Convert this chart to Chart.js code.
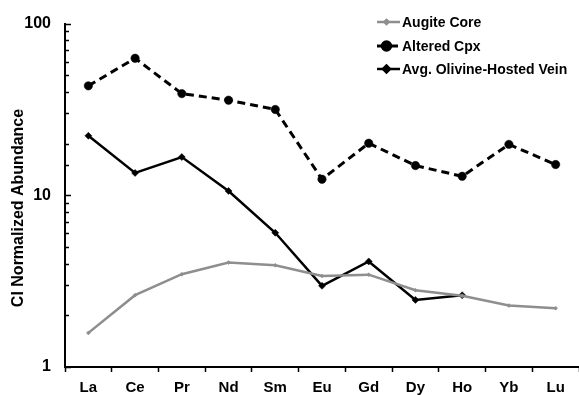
<!DOCTYPE html>
<html>
<head>
<meta charset="utf-8">
<script src="https://cdn.jsdelivr.net/npm/chart.js@4/dist/chart.umd.min.js"></script>
<style>
  html, body { margin: 0; padding: 0; background: #fff; overflow: hidden; }
  canvas { display: block; }
</style>
</head>
<body>
<canvas id="ree" width="579" height="395"></canvas>
<script>
// REE pattern, CI chondrite normalized
const elements = ['La', 'Ce', 'Pr', 'Nd', 'Sm', 'Eu', 'Gd', 'Dy', 'Ho', 'Yb', 'Lu'];
const augiteCore = [1.58, 2.62, 3.47, 4.06, 3.91, 3.39, 3.45, 2.80, 2.60, 2.28, 2.20];
const alteredCpx = [43.4, 62.8, 39.1, 35.8, 31.6, 12.4, 20.1, 14.9, 12.9, 19.8, 15.1];
const olivineVein = [22.2, 13.5, 16.7, 10.6, 6.05, 2.97, 4.12, 2.46, 2.62, null, null];
const yTickLabels = [1, 10, 100];
const yTitle = 'CI Normalized Abundance';

const FONT = '"Liberation Sans", Arial, sans-serif';
const GREY = '#8e8e8e';

// y-axis tick marks point into the plot area
const innerTicks = {
  id: 'innerTicks',
  afterDraw(chart) {
    const y = chart.scales.y;
    const ctx = chart.ctx;
    const x0 = chart.chartArea.left;
    ctx.save();
    ctx.strokeStyle = '#000';
    ctx.lineWidth = 1.5;
    y.ticks.forEach(t => {
      const py = Math.round(y.getPixelForValue(t.value)) + 0.5;
      const major = yTickLabels.includes(t.value);
      ctx.beginPath();
      ctx.moveTo(x0, py);
      ctx.lineTo(x0 + (major ? 6 : 4), py);
      ctx.stroke();
    });
    ctx.restore();
  }
};

// rotated y-axis title, sitting a little below the plot's mid-height
const yAxisTitle = {
  id: 'yAxisTitle',
  afterDraw(chart) {
    const ctx = chart.ctx;
    ctx.save();
    ctx.translate(19, 208);
    ctx.rotate(-Math.PI / 2);
    ctx.fillStyle = '#000';
    ctx.font = 'bold 16px ' + FONT;
    ctx.textAlign = 'center';
    ctx.textBaseline = 'middle';
    ctx.fillText(yTitle, 0, 0);
    ctx.restore();
  }
};

// legend with line + marker samples
const lineLegend = {
  id: 'lineLegend',
  afterDraw(chart) {
    const ctx = chart.ctx;
    const x1 = 377, x2 = 400, tx = 402;
    const rows = [22, 46, 69];
    ctx.save();
    chart.data.datasets.forEach((ds, i) => {
      const y = rows[i];
      ctx.strokeStyle = ds.borderColor;
      ctx.lineWidth = ds.borderWidth;
      ctx.setLineDash(ds.borderDash || []);
      ctx.beginPath();
      ctx.moveTo(x1, y);
      ctx.lineTo(x2, y);
      ctx.stroke();
      ctx.setLineDash([]);
      ctx.fillStyle = ds.pointBackgroundColor;
      ctx.strokeStyle = ds.pointBorderColor;
      Chart.helpers.drawPoint(ctx, {
        pointStyle: ds.pointStyle,
        radius: ds.pointRadius,
        borderWidth: ds.pointBorderWidth
      }, (x1 + x2) / 2 - 2, y);
      ctx.fillStyle = '#000';
      ctx.font = 'bold 14px ' + FONT;
      ctx.textBaseline = 'middle';
      ctx.textAlign = 'left';
      ctx.fillText(ds.label, tx, y + 1);
    });
    ctx.restore();
  }
};

new Chart(document.getElementById('ree'), {
  type: 'line',
  data: {
    labels: elements,
    datasets: [
      {
        label: 'Augite Core',
        data: augiteCore,
        borderColor: GREY,
        backgroundColor: GREY,
        borderWidth: 2.5,
        pointStyle: 'rectRot',
        pointRadius: 2,
        pointBorderWidth: 0.5,
        pointBackgroundColor: GREY,
        pointBorderColor: GREY,
        tension: 0
      },
      {
        label: 'Altered Cpx',
        data: alteredCpx,
        borderColor: '#000',
        backgroundColor: '#000',
        borderWidth: 3,
        borderDash: [8, 5],
        pointStyle: 'circle',
        pointRadius: 4.2,
        pointBorderWidth: 0.5,
        pointBackgroundColor: '#000',
        pointBorderColor: '#000',
        tension: 0
      },
      {
        label: 'Avg. Olivine-Hosted Vein',
        data: olivineVein,
        borderColor: '#000',
        backgroundColor: '#000',
        borderWidth: 2.5,
        pointStyle: 'rectRot',
        pointRadius: 3.5,
        pointBorderWidth: 0.5,
        pointBackgroundColor: '#000',
        pointBorderColor: '#000',
        tension: 0,
        spanGaps: false
      }
    ]
  },
  options: {
    responsive: false,
    maintainAspectRatio: false,
    animation: false,
    devicePixelRatio: 1,
    layout: { autoPadding: false, padding: { top: 19, right: 0, left: 0, bottom: 0 } },
    plugins: {
      legend: { display: false },
      tooltip: { enabled: false }
    },
    scales: {
      x: {
        offset: true,
        grid: {
          offset: true,
          drawOnChartArea: false,
          drawTicks: true,
          tickLength: 5,
          tickWidth: 1.5,
          tickColor: '#000'
        },
        border: { display: true, color: '#000', width: 2 },
        ticks: {
          color: '#000',
          font: { family: FONT, size: 15, weight: 'bold' },
          padding: 7,
          maxRotation: 0,
          autoSkip: false
        },
        afterFit(scale) {
          scale.height = 28;
          scale.paddingLeft = 0;
          scale.paddingRight = 0;
        }
      },
      y: {
        type: 'logarithmic',
        min: 1,
        max: 100,
        grid: { drawOnChartArea: false, drawTicks: false },
        border: { display: true, color: '#000', width: 2 },
        ticks: {
          color: '#000',
          font: { family: FONT, size: 16, weight: 'bold' },
          padding: 14,
          autoSkip: false,
          callback(v) { return yTickLabels.includes(v) ? String(v) : ''; }
        },
        afterFit(scale) { scale.width = 65; }
      }
    }
  },
  plugins: [innerTicks, yAxisTitle, lineLegend]
});
</script>
</body>
</html>
